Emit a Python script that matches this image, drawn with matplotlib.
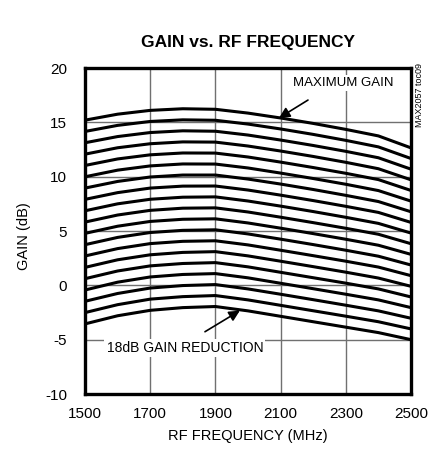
import matplotlib
matplotlib.use("Agg")
from matplotlib import pyplot as plt
import numpy as np

plt.rcParams['font.family'] = ['Liberation Sans', 'DejaVu Sans']
plt.rcParams['axes.unicode_minus'] = False

freq = [1500, 1600, 1700, 1800, 1900, 2000, 2100, 2200, 2300, 2400, 2500]

# one row per gain-reduction step, 0 dB (maximum gain) down to 18 dB
gain = [
    [15.20, 15.75, 16.10, 16.25, 16.20, 15.85, 15.40, 14.90, 14.35, 13.75, 12.65],
    [14.16, 14.72, 15.08, 15.23, 15.19, 14.84, 14.39, 13.89, 13.34, 12.74, 11.67],
    [13.12, 13.69, 14.06, 14.22, 14.18, 13.83, 13.37, 12.87, 12.33, 11.74, 10.69],
    [12.07, 12.66, 13.03, 13.20, 13.18, 12.82, 12.36, 11.86, 11.32, 10.73, 9.71],
    [11.03, 11.63, 12.01, 12.18, 12.17, 11.81, 11.34, 10.84, 10.31, 9.73, 8.73],
    [9.99, 10.60, 10.99, 11.17, 11.16, 10.80, 10.33, 9.83, 9.30, 8.72, 7.75],
    [8.95, 9.56, 9.97, 10.15, 10.15, 9.78, 9.32, 8.82, 8.28, 7.71, 6.77],
    [7.91, 8.53, 8.95, 9.13, 9.14, 8.77, 8.30, 7.80, 7.27, 6.71, 5.79],
    [6.86, 7.50, 7.92, 8.11, 8.14, 7.76, 7.29, 6.79, 6.26, 5.70, 4.81],
    [5.82, 6.47, 6.90, 7.10, 7.13, 6.75, 6.27, 5.77, 5.25, 4.70, 3.83],
    [4.78, 5.44, 5.88, 6.08, 6.12, 5.74, 5.26, 4.76, 4.24, 3.69, 2.85],
    [3.74, 4.41, 4.86, 5.06, 5.11, 4.73, 4.25, 3.75, 3.23, 2.68, 1.87],
    [2.70, 3.38, 3.84, 4.05, 4.10, 3.72, 3.23, 2.73, 2.22, 1.68, 0.89],
    [1.65, 2.35, 2.81, 3.03, 3.10, 2.71, 2.22, 1.72, 1.21, 0.67, -0.09],
    [0.61, 1.32, 1.79, 2.01, 2.09, 1.70, 1.20, 0.70, 0.20, -0.33, -1.07],
    [-0.43, 0.29, 0.77, 1.00, 1.08, 0.69, 0.19, -0.31, -0.82, -1.34, -2.05],
    [-1.47, -0.75, -0.25, -0.02, 0.07, -0.33, -0.82, -1.32, -1.83, -2.35, -3.03],
    [-2.51, -1.78, -1.27, -1.04, -0.94, -1.34, -1.84, -2.34, -2.84, -3.35, -4.01],
    [-3.55, -2.80, -2.30, -2.05, -1.95, -2.35, -2.85, -3.35, -3.85, -4.35, -5.00],
]

xticks = [1500, 1700, 1900, 2100, 2300, 2500]
yticks = [-10, -5, 0, 5, 10, 15, 20]

fig = plt.figure(figsize=(4.45, 4.55), dpi=100)
ax = fig.add_axes([85/445, 1-394/455, 326/445, 326/455])

for row in gain:
    ax.plot(freq, row, color='black', lw=2.2, solid_capstyle='butt', zorder=3)

ax.set_xlim(1500, 2500)
ax.set_ylim(-10, 20)
ax.set_xticks(xticks)
ax.set_yticks(yticks)
ax.grid(True, color='#707070', lw=1.0, zorder=1)
ax.tick_params(length=0, labelsize=11)
ax.tick_params(axis='y', pad=13)
ax.tick_params(axis='x', pad=9)
for s in ax.spines.values():
    s.set_linewidth(2.4)
    s.set_zorder(5)

ax.text(2138, 18.6, "MAXIMUM GAIN", fontsize=9.5, va='center', ha='left',
        bbox=dict(facecolor='white', edgecolor='none', pad=1.5), zorder=4)
ax.annotate("", xy=(2095, 15.4), xytext=(2184, 17.05),
            arrowprops=dict(arrowstyle='-|>', color='black', lw=1.2,
                            mutation_scale=16, shrinkA=0, shrinkB=0), zorder=4)

ax.text(1566, -5.77, "18dB GAIN REDUCTION", fontsize=10, va='center', ha='left',
        bbox=dict(facecolor='white', edgecolor='none', pad=1.5), zorder=4)
ax.annotate("", xy=(1975, -2.33), xytext=(1868, -4.27),
            arrowprops=dict(arrowstyle='-|>', color='black', lw=1.2,
                            mutation_scale=16, shrinkA=0, shrinkB=0), zorder=4)

ax.set_xlabel("RF FREQUENCY (MHz)", fontsize=10.5, labelpad=6)
fig.text(24/445, 1-236/455, "GAIN (dB)", fontsize=10.5, rotation=90,
         ha='center', va='center')
fig.text(248/445, 1-42/455, "GAIN vs. RF FREQUENCY", fontsize=12.5,
         fontweight='bold', ha='center', va='center')
fig.text(420/445, 1-95/455, "MAX2057 toc09", fontsize=6.5, rotation=90,
         ha='center', va='center')

fig.savefig("out.png", dpi=100)
